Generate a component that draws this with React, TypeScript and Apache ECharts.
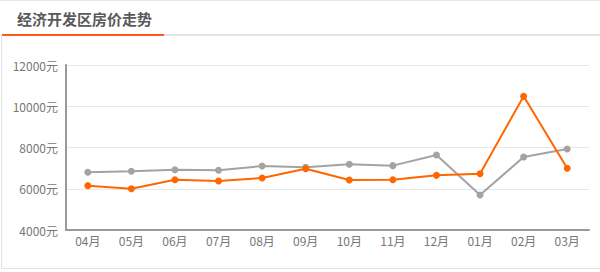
import React, { useEffect, useRef } from "react";
import * as echarts from "echarts";

const months = ["04月", "05月", "06月", "07月", "08月", "09月", "10月", "11月", "12月", "01月", "02月", "03月"];
const grayValues = [6800, 6850, 6920, 6900, 7100, 7040, 7190, 7120, 7640, 5700, 7540, 7930];
const orangeValues = [6150, 6000, 6440, 6380, 6520, 6970, 6420, 6440, 6650, 6730, 10480, 6990];
const yMin = 4000;
const yMax = 12000;
const yStep = 2000;
const title = "经济开发区房价走势";

export default function App() {
  const ref = useRef<HTMLDivElement>(null);
  useEffect(() => {
    if (!ref.current) return;
    const chart = echarts.init(ref.current, null, { renderer: "svg" });
    const font = "'Noto Sans CJK SC', 'Noto Sans', sans-serif";
    chart.setOption({
      animation: false,
      textStyle: { fontFamily: font },
      grid: { left: 66, right: 11, top: 65, bottom: 42, containLabel: false },
      graphic: [
        { type: "rect", shape: { x: 0, y: 0, width: 600, height: 1 }, style: { fill: "#e6e6e6" } },
        { type: "rect", shape: { x: 1, y: 36, width: 1, height: 233 }, style: { fill: "#e3e3e3" } },
        { type: "rect", shape: { x: 1, y: 268, width: 599, height: 1 }, style: { fill: "#e3e3e3" } },
        { type: "rect", shape: { x: 2, y: 34, width: 598, height: 2 }, style: { fill: "#e2e2e2" } },
        { type: "rect", shape: { x: 2, y: 34, width: 162, height: 2 }, style: { fill: "#ff5a1a" } },
        {
          type: "text",
          left: 17,
          top: 11,
          style: { text: title, fill: "#5a5a5a", font: `bold 15px ${font}` },
        },
      ],
      xAxis: {
        type: "category",
        data: months,
        boundaryGap: true,
        axisLine: { lineStyle: { color: "#999999", width: 2 } },
        axisTick: { show: false },
        axisLabel: { color: "#777777", fontSize: 12, margin: 4 },
      },
      yAxis: {
        type: "value",
        min: yMin,
        max: yMax,
        interval: yStep,
        axisLine: { show: true, lineStyle: { color: "#999999", width: 2 } },
        axisTick: { show: false },
        axisLabel: { color: "#777777", fontSize: 12, margin: 8, formatter: (v: number) => `${v}元` },
        splitLine: { lineStyle: { color: "#e8e8e8", width: 1 } },
      },
      series: [
        {
          type: "line",
          data: grayValues,
          symbol: "circle",
          symbolSize: 7,
          itemStyle: { color: "#a3a3a3" },
          lineStyle: { color: "#a3a3a3", width: 2 },
        },
        {
          type: "line",
          data: orangeValues,
          symbol: "circle",
          symbolSize: 7,
          itemStyle: { color: "#ff6600" },
          lineStyle: { color: "#ff6600", width: 2 },
        },
      ],
    });
    return () => chart.dispose();
  }, []);
  return <div ref={ref} style={{ width: 600, height: 272, position: "absolute", left: 0, top: 0 }} />;
}
